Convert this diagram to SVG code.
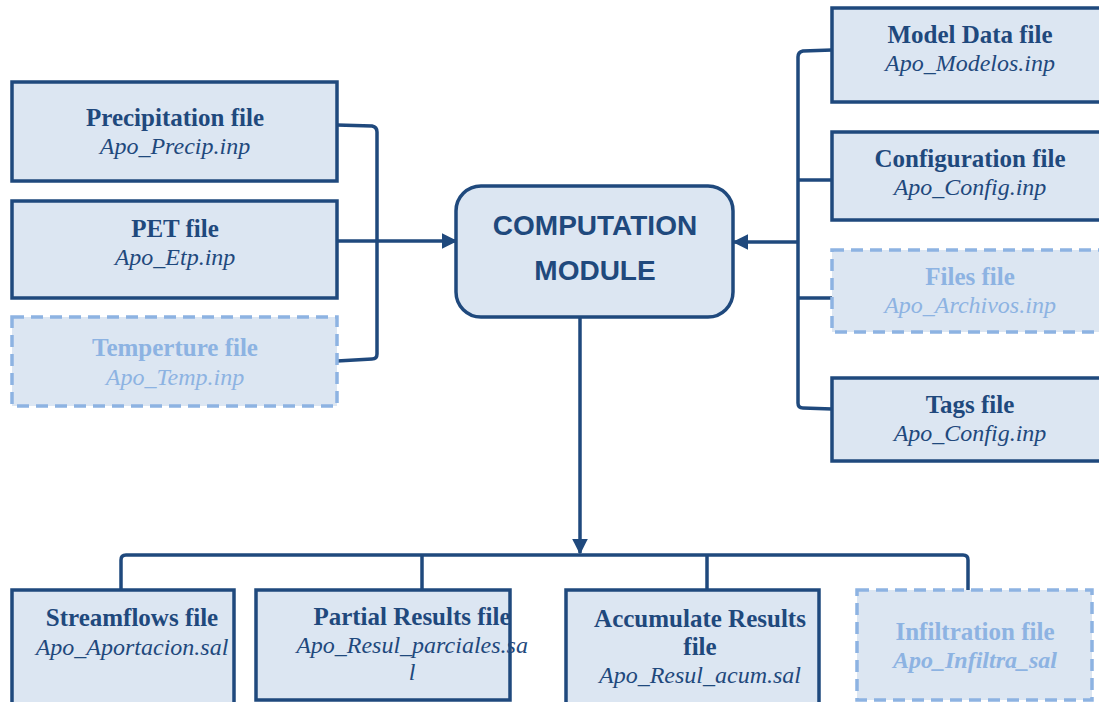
<svg xmlns="http://www.w3.org/2000/svg" width="1099" height="702" viewBox="0 0 1099 702">
<defs>
<marker id="ah" viewBox="0 0 10 10" refX="9" refY="5" markerWidth="4.5" markerHeight="4.5" orient="auto" markerUnits="strokeWidth">
<path d="M0,0 L10,5 L0,10 z" fill="#1F497D"/>
</marker>
</defs>
<style>
.box{fill:#DCE6F2;stroke:#1F497D;stroke-width:3.5}
.dbox{fill:#DCE6F2;stroke:#8DB3E2;stroke-width:3.5;stroke-dasharray:12 7}
.t{font-family:"Liberation Serif","DejaVu Serif",serif;font-size:25px;font-weight:bold;fill:#1F497D;text-anchor:middle}
.i{font-family:"Liberation Serif","DejaVu Serif",serif;font-size:24px;font-style:italic;fill:#1F497D;text-anchor:middle}
.l{fill:#8DB3E2}
.c{font-family:"Liberation Sans","Arial",sans-serif;font-size:28px;font-weight:bold;fill:#1F497D;text-anchor:middle}
.ln{fill:none;stroke:#1F497D;stroke-width:3.5;stroke-linejoin:round}
</style>
<rect width="1099" height="702" fill="#FFFFFF"/>
<g id="connectors">
<path class="ln" d="M337,125 L372,126 Q377,127 377,132 L377,354 Q377,359 372,359 L337,361"/>
<path class="ln" d="M337,241 L456,241" marker-end="url(#ah)"/>
<path class="ln" d="M832,50 L803,51 Q798,52 798,57 L798,403 Q798,408 803,408 L832,409"/>
<path class="ln" d="M798,180 L832,180"/>
<path class="ln" d="M798,298 L832,298"/>
<path class="ln" d="M798,242 L734,242" marker-end="url(#ah)"/>
<path class="ln" d="M580,317 L580,553" marker-end="url(#ah)"/>
<path class="ln" d="M121,590 L121,560 Q121,555 126,555 L963,555 Q968,555 968,560 L968,590"/>
<path class="ln" d="M422,555 L422,590"/>
<path class="ln" d="M707,555 L707,590"/>
</g>
<g id="precip">
<rect class="box" x="12" y="82" width="325" height="99"/>
<text class="t" x="175" y="126">Precipitation file</text>
<text class="i" x="175" y="154">Apo_Precip.inp</text>
</g>
<g id="pet">
<rect class="box" x="12" y="201" width="325" height="97"/>
<text class="t" x="175" y="237">PET file</text>
<text class="i" x="175" y="265">Apo_Etp.inp</text>
</g>
<g id="temp">
<rect class="dbox" x="12" y="317" width="325" height="89"/>
<text class="t l" x="175" y="356">Temperture file</text>
<text class="i l" x="175" y="385">Apo_Temp.inp</text>
</g>
<g id="computation">
<rect class="box" x="456" y="186" width="277" height="131" rx="25"/>
<text class="c" x="595" y="235">COMPUTATION</text>
<text class="c" x="595" y="280">MODULE</text>
</g>
<g id="model">
<rect class="box" x="832" y="8" width="280" height="94"/>
<text class="t" x="970" y="43">Model Data file</text>
<text class="i" x="970" y="71">Apo_Modelos.inp</text>
</g>
<g id="config">
<rect class="box" x="832" y="132" width="280" height="88"/>
<text class="t" x="970" y="167">Configuration file</text>
<text class="i" x="970" y="195">Apo_Config.inp</text>
</g>
<g id="files">
<rect class="dbox" x="832" y="250" width="280" height="82"/>
<text class="t l" x="970" y="285">Files file</text>
<text class="i l" x="970" y="313">Apo_Archivos.inp</text>
</g>
<g id="tags">
<rect class="box" x="832" y="378" width="280" height="83"/>
<text class="t" x="970" y="413">Tags file</text>
<text class="i" x="970" y="441">Apo_Config.inp</text>
</g>
<g id="streamflows">
<rect class="box" x="12" y="590" width="222" height="120"/>
<text class="t" x="132" y="626">Streamflows file</text>
<text class="i" x="132" y="655">Apo_Aportacion.sal</text>
</g>
<g id="partial">
<rect class="box" x="256" y="590" width="254" height="110"/>
<text class="t" x="412" y="625">Partial Results file</text>
<text class="i" x="412" y="653">Apo_Resul_parciales.sa</text>
<text class="i" x="412" y="680">l</text>
</g>
<g id="accum">
<rect class="box" x="566" y="590" width="253" height="120"/>
<text class="t" x="700" y="627">Accumulate Results</text>
<text class="t" x="700" y="655">file</text>
<text class="i" x="700" y="683">Apo_Resul_acum.sal</text>
</g>
<g id="infil">
<rect class="dbox" x="857" y="590" width="235" height="110"/>
<text class="t l" x="975" y="640">Infiltration file</text>
<text class="i l" x="975" y="668" font-weight="bold">Apo_Infiltra_sal</text>
</g>
</svg>
